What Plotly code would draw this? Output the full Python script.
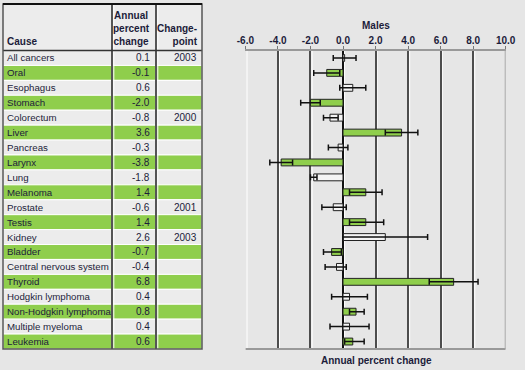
import plotly.graph_objects as go

causes = ["All cancers", "Oral", "Esophagus", "Stomach", "Colorectum", "Liver",
          "Pancreas", "Larynx", "Lung", "Melanoma", "Prostate", "Testis", "Kidney",
          "Bladder", "Central nervous system", "Thyroid", "Hodgkin lymphoma",
          "Non-Hodgkin lymphoma", "Multiple myeloma", "Leukemia"]
apc_table = ["0.1", "-0.1", "0.6", "-2.0", "-0.8", "3.6", "-0.3", "-3.8", "-1.8", "1.4",
             "-0.6", "1.4", "2.6", "-0.7", "-0.4", "6.8", "0.4", "0.8", "0.4", "0.6"]
changepoint = ["2003", "", "", "", "2000", "", "", "", "", "", "2001", "", "2003",
               "", "", "", "", "", "", ""]
apc_bar = [0.1, -1.0, 0.6, -2.0, -0.8, 3.6, -0.3, -3.8, -1.8, 1.4, -0.6, 1.4, 2.6,
           -0.7, -0.4, 6.8, 0.4, 0.8, 0.4, 0.6]
ci_low = [-0.6, -1.8, -0.2, -2.6, -1.2, 2.6, -0.9, -4.5, -2.0, 0.4, -1.3, 0.4, 0.0,
          -1.2, -1.1, 5.3, -0.7, 0.4, -0.8, 0.1]
ci_high = [0.8, -0.2, 1.4, -1.4, -0.3, 4.6, 0.3, -3.1, -1.6, 2.4, 0.2, 2.5, 5.2,
           -0.1, 0.2, 8.3, 1.5, 1.3, 1.6, 1.3]
x_ticks = [-6, -4, -2, 0, 2, 4, 6, 8, 10]

W, H = 525, 370
BG = "#e6e6e6"
GREEN = "#8fce4c"
CELL = "#ececec"
TXT = "#1c1c3a"
FONT = "Liberation Sans Narrow, Liberation Sans, Arial, sans-serif"
FS = 10

def px(p):
    return p / W

def py(p):
    return 1 - p / H

n = len(causes)
top_rows, bot_rows = 50.5, 349.0
rh = (bot_rows - top_rows) / n
tbl_l, c1, c2, tbl_r, tbl_t = 3, 112, 156, 202, 4
plot_l, plot_r = 245.4, 505.7
du = (10 - (-6)) / (plot_r - plot_l)  # data units per pixel

green_row = [i % 2 == 1 for i in range(n)]
bar_colors = [GREEN if g else "#f4f4f4" for g in green_row]

fig = go.Figure()
fig.add_trace(go.Bar(
    y=list(range(n)), x=apc_bar, orientation="h", width=0.46,
    marker=dict(color=bar_colors, line=dict(color="#222", width=1)),
    error_x=dict(type="data", symmetric=False,
                 array=[h - v for h, v in zip(ci_high, apc_bar)],
                 arrayminus=[v - l for v, l in zip(apc_bar, ci_low)],
                 color="#111", thickness=1.5, width=3),
    hoverinfo="skip", showlegend=False,
))

shapes = []
annotations = []
tfont = dict(size=FS, color=TXT, family=FONT)
cfont = dict(size=9.7, color=TXT, family=FONT)
hfont = dict(size=FS, color=TXT, family=FONT)

# table header background
shapes.append(dict(type="rect", xref="paper", yref="paper",
                   x0=px(tbl_l), x1=px(tbl_r), y0=py(top_rows), y1=py(tbl_t),
                   fillcolor=CELL, line=dict(width=0), layer="below"))
for i in range(n):
    y0 = top_rows + i * rh
    shapes.append(dict(type="rect", xref="paper", yref="paper",
                       x0=px(tbl_l), x1=px(tbl_r), y0=py(y0 + rh), y1=py(y0),
                       fillcolor=GREEN if green_row[i] else CELL,
                       line=dict(color="white", width=1), layer="below"))
    yc = py(y0 + rh / 2)
    annotations.append(dict(x=px(tbl_l + 2), y=yc, xref="paper", yref="paper",
                            text=causes[i], showarrow=False, xanchor="left",
                            yanchor="middle", font=cfont))
    annotations.append(dict(x=px(c1 + 40), y=yc, xref="paper", yref="paper",
                            text=apc_table[i], showarrow=False, xanchor="right",
                            yanchor="middle", font=tfont))
    if changepoint[i]:
        annotations.append(dict(x=px(tbl_r - 3), y=yc, xref="paper", yref="paper",
                                text=changepoint[i], showarrow=False, xanchor="right",
                                yanchor="middle", font=tfont))

# column separators
for cx in (c1, c2):
    shapes.append(dict(type="line", xref="paper", yref="paper",
                       x0=px(cx + 1.8), x1=px(cx + 1.8), y0=py(bot_rows), y1=py(tbl_t),
                       line=dict(color="white", width=1)))
    shapes.append(dict(type="line", xref="paper", yref="paper",
                       x0=px(cx), x1=px(cx), y0=py(bot_rows), y1=py(tbl_t),
                       line=dict(color="#555", width=2)))
# header bottom
shapes.append(dict(type="line", xref="paper", yref="paper",
                   x0=px(tbl_l), x1=px(tbl_r), y0=py(top_rows), y1=py(top_rows),
                   line=dict(color="#333", width=1.5)))
# outer border
shapes.append(dict(type="rect", xref="paper", yref="paper",
                   x0=px(tbl_l), x1=px(tbl_r), y0=py(bot_rows), y1=py(tbl_t),
                   line=dict(color="#555", width=1.5)))
shapes.append(dict(type="line", xref="paper", yref="paper",
                   x0=px(tbl_l), x1=px(tbl_r), y0=py(tbl_t), y1=py(tbl_t),
                   line=dict(color="#111", width=2)))

annotations.append(dict(x=px(tbl_l + 2), y=py(top_rows - 2), xref="paper", yref="paper",
                        text="<b>Cause</b>", showarrow=False, xanchor="left",
                        yanchor="bottom", font=hfont))
annotations.append(dict(x=px(c1 + 40), y=py(top_rows - 2), xref="paper", yref="paper",
                        text="<b>Annual<br>percent<br>change</b>", showarrow=False,
                        xanchor="right", yanchor="bottom", align="center", font=hfont))
annotations.append(dict(x=px(tbl_r - 2), y=py(top_rows - 2), xref="paper", yref="paper",
                        text="<b>Change-<br>point</b>", showarrow=False, xanchor="right",
                        yanchor="bottom", align="right", font=hfont))

# chart titles
annotations.append(dict(x=px(376), y=py(26), xref="paper", yref="paper",
                        text="<b>Males</b>", showarrow=False, xanchor="center",
                        yanchor="middle", font=hfont))
annotations.append(dict(x=px(376), y=py(360), xref="paper", yref="paper",
                        text="<b>Annual percent change</b>", showarrow=False,
                        xanchor="center", yanchor="middle", font=hfont))

# white highlight next to each gridline
for v in x_ticks[:-1]:
    shapes.append(dict(type="line", xref="x", yref="y domain", x0=v + 1.6 * du,
                       x1=v + 1.6 * du, y0=0, y1=1, layer="below",
                       line=dict(color="white", width=1)))
# bottom line and right edge of plot
shapes.append(dict(type="line", xref="x", yref="y domain", x0=-6, x1=10, y0=0, y1=0,
                   line=dict(color="#999", width=2)))
shapes.append(dict(type="line", xref="x", yref="y domain", x0=10, x1=10, y0=0, y1=1,
                   line=dict(color="#aaa", width=2)))

fig.update_layout(
    width=W, height=H,
    margin=dict(l=0, r=0, t=0, b=0, pad=0),
    paper_bgcolor=BG, plot_bgcolor=BG,
    shapes=shapes, annotations=annotations,
    xaxis=dict(domain=[px(plot_l), px(plot_r)], range=[-6, 10], side="top",
               tickvals=x_ticks, ticktext=[f"<b>{v:.1f}</b>" for v in x_ticks],
               tickfont=dict(size=FS, color=TXT, family=FONT),
               showgrid=True, gridcolor="#4d4d4d", gridwidth=1.6,
               zeroline=True, zerolinecolor="#111", zerolinewidth=1.5,
               showline=True, linecolor="#999", linewidth=1.5,
               ticks="outside", ticklen=3, tickcolor="#777", ticklabelstandoff=-2,
               automargin=False, fixedrange=True),
    yaxis=dict(domain=[1 - bot_rows / H, 1 - top_rows / H], range=[n - 0.5, -0.5],
               showgrid=False, zeroline=False, showticklabels=False,
               automargin=False, fixedrange=True),
)

fig.write_html("out.html", config={"displayModeBar": False},
               post_script="document.body.style.margin='0px';")
